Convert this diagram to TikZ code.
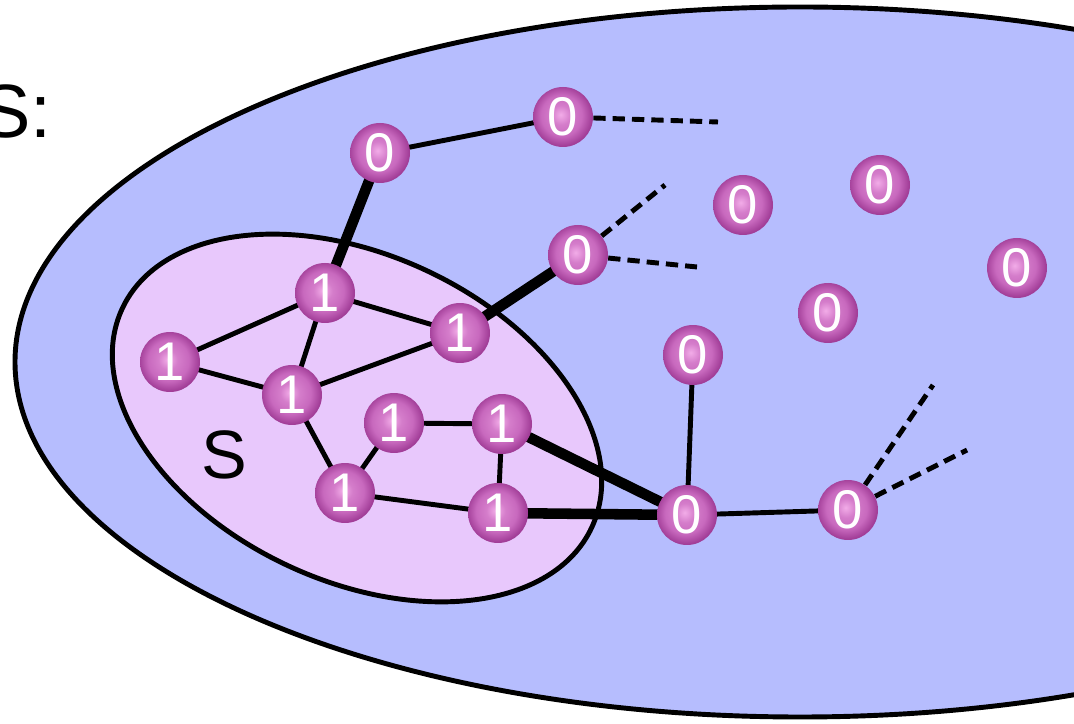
\documentclass[tikz,border=0pt]{standalone}
\usepackage{fontspec}
\setmainfont{Liberation Sans}

\definecolor{outerblue}{RGB}{182,189,254}
\definecolor{innerpink}{RGB}{232,200,252}
\definecolor{sphhi}{RGB}{242,172,232}
\definecolor{sphmid}{RGB}{200,105,190}
\definecolor{sphlo}{RGB}{162,62,152}

% purple glass-ball look for the vertices
\pgfdeclareradialshading{sphere}{\pgfpoint{-2bp}{2bp}}{%
  color(0bp)=(sphhi); color(8bp)=(sphmid!70!sphhi); color(17bp)=(sphmid);
  color(25bp)=(sphlo); color(50bp)=(sphlo)}

\pgfdeclarelayer{regions}
\pgfdeclarelayer{edges}
\pgfsetlayers{regions,edges,main}

\tikzset{
  vtx/.style={circle, minimum size=1.2cm, inner sep=0pt, shading=sphere,
    text=white, font=\fontsize{31}{31}\selectfont},
  thin edge/.style={line width=2.8pt},
  heavy edge/.style={line width=6pt},
  open edge/.style={line width=2.8pt, dash pattern=on 7pt off 4pt},
  region/.style={draw=black, line width=2.8pt},
}

\begin{document}
\begin{tikzpicture}[x=0.02cm, y=0.02cm]
\useasboundingbox (0,0) rectangle (1074,723);
\clip (0,0) rectangle (1074,723);

% the whole vertex set and the cut S inside it
\begin{pgfonlayer}{regions}
  \draw[region, fill=outerblue] (800,361) ellipse [x radius=785, y radius=355];
  \draw[region, fill=innerpink, rotate around={-25:(357,305)}]
    (357,305) ellipse [x radius=259, y radius=163];
\end{pgfonlayer}

\node[anchor=base east, inner sep=0pt, font=\fontsize{43}{43}\selectfont] (title) at (52,585) {S:};
\node[font=\fontsize{39}{39}\selectfont] (slabel) at (224,268) {S};

% vertices outside S
\node[vtx] (a0) at (563,606) {0};
\node[vtx] (b0) at (380,570) {0};
\node[vtx] (c0) at (578,468) {0};
\node[vtx] (d0) at (743,518) {0};
\node[vtx] (e0) at (880,538) {0};
\node[vtx] (f0) at (1017,455) {0};
\node[vtx] (g0) at (828,410) {0};
\node[vtx] (h0) at (693,368) {0};
\node[vtx] (i0) at (687,208) {0};
\node[vtx] (j0) at (848,213) {0};

% vertices inside S
\node[vtx] (p1) at (325,430) {1};
\node[vtx] (q1) at (460,390) {1};
\node[vtx] (r1) at (170,361) {1};
\node[vtx] (t1) at (292,328) {1};
\node[vtx] (u1) at (394,300) {1};
\node[vtx] (v1) at (502,299) {1};
\node[vtx] (w1) at (345,230) {1};
\node[vtx] (x1) at (498,210) {1};

% loose ends of edges leading further out
\coordinate (da)  at (718,601);
\coordinate (dc1) at (665,538);
\coordinate (dc2) at (697,456);
\coordinate (dj1) at (933,338);
\coordinate (dj2) at (967,273);

\begin{pgfonlayer}{edges}
  \draw[thin edge] (a0.center) -- (b0.center);
  \draw[thin edge] (r1.center) -- (p1.center);
  \draw[thin edge] (r1.center) -- (t1.center);
  \draw[thin edge] (p1.center) -- (t1.center);
  \draw[thin edge] (p1.center) -- (q1.center);
  \draw[thin edge] (t1.center) -- (q1.center);
  \draw[thin edge] (t1.center) -- (w1.center);
  \draw[thin edge] (w1.center) -- (u1.center);
  \draw[thin edge] (u1.center) -- (v1.center);
  \draw[thin edge] (v1.center) -- (x1.center);
  \draw[thin edge] (w1.center) -- (x1.center);
  \draw[thin edge] (h0.center) -- (i0.center);
  \draw[thin edge] (i0.center) -- (j0.center);
  % edges crossing the cut
  \draw[heavy edge] (b0.center) -- (p1.center);
  \draw[heavy edge] (c0.center) -- (q1.center);
  \draw[heavy edge] (v1.center) -- (i0.center);
  \draw[heavy edge] (x1.center) -- (i0.center);
  % edges continuing beyond the drawing
  \draw[open edge] (a0) -- (da);
  \draw[open edge] (c0) -- (dc1);
  \draw[open edge] (c0) -- (dc2);
  \draw[open edge] (j0) -- (dj1);
  \draw[open edge] (j0) -- (dj2);
\end{pgfonlayer}
\end{tikzpicture}
\end{document}
